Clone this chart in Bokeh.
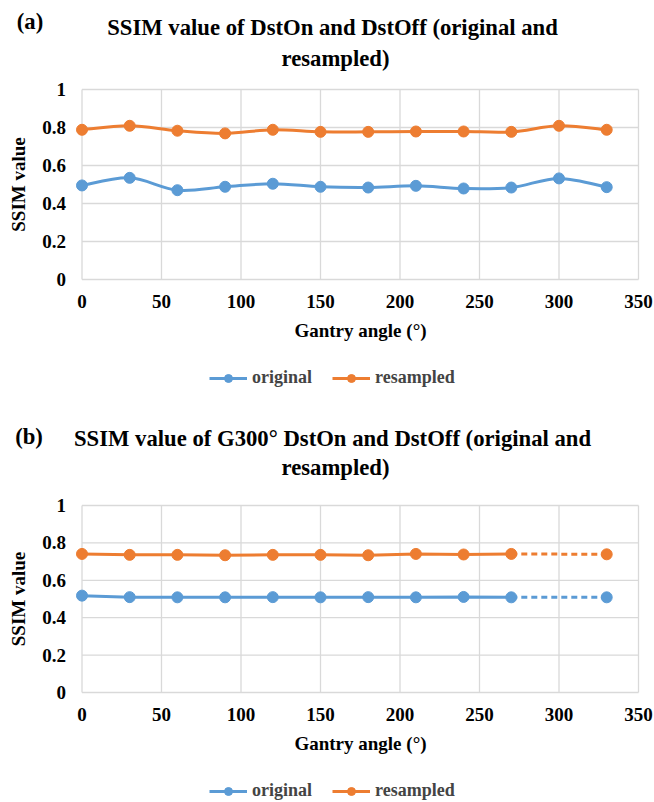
from bokeh.plotting import figure
from bokeh.models import FixedTicker, Legend, LegendItem, Label, CustomJSTickFormatter, Range1d
from bokeh.layouts import column
from bokeh.embed import file_html
from bokeh.resources import INLINE

# ---------------- data ----------------
angles_a = [0, 30, 60, 90, 120, 150, 180, 210, 240, 270, 300, 330]
original_a = [0.495, 0.535, 0.470, 0.488, 0.504, 0.488, 0.484, 0.493, 0.479, 0.484, 0.532, 0.486]
resampled_a = [0.788, 0.809, 0.783, 0.769, 0.788, 0.777, 0.777, 0.779, 0.779, 0.777, 0.809, 0.788]

angles_b = [0, 30, 60, 90, 120, 150, 180, 210, 240, 270, 330]
original_b = [0.518, 0.510, 0.509, 0.509, 0.510, 0.509, 0.510, 0.509, 0.511, 0.509, 0.509]
resampled_b = [0.741, 0.736, 0.736, 0.734, 0.736, 0.736, 0.734, 0.741, 0.738, 0.741, 0.739]
solid_count_b = 10  # points 0..270 joined by a solid line, 270->330 dashed

x_ticks = [0, 50, 100, 150, 200, 250, 300, 350]
y_ticks = [0, 0.2, 0.4, 0.6, 0.8, 1]

title_a = ["SSIM value of DstOn and DstOff (original and", "resampled)"]
title_b = ["SSIM value of G300\u00b0 DstOn and DstOff (original and", "resampled)"]
tag_a = "(a)"
tag_b = "(b)"
x_label = "Gantry angle (\u00b0)"
y_label = "SSIM value"
series_names = ["original", "resampled"]

BLUE = "#5B9BD5"
ORANGE = "#ED7D31"
GRID = "#D9D9D9"
FONT = "Liberation Serif"

# ---------------- layout (page pixels) ----------------
FIG_LEFT, FIG_W = 0, 654
X0_PX, XMAX_PX = 81.5, 638.0          # page x of x=0 and x=350


def smooth_controls(xs, ys):
    """Bezier control points for an Excel-like smoothed line through the points."""
    n = len(xs)
    out = {k: [] for k in ["x0", "y0", "x1", "y1", "cx0", "cy0", "cx1", "cy1"]}
    for i in range(n - 1):
        xm, ym = (xs[i - 1], ys[i - 1]) if i > 0 else (xs[i], ys[i])
        xp, yp = (xs[i + 2], ys[i + 2]) if i + 2 < n else (xs[i + 1], ys[i + 1])
        out["x0"].append(xs[i]); out["y0"].append(ys[i])
        out["x1"].append(xs[i + 1]); out["y1"].append(ys[i + 1])
        out["cx0"].append(xs[i] + (xs[i + 1] - xm) / 6.0)
        out["cy0"].append(ys[i] + (ys[i + 1] - ym) / 6.0)
        out["cx1"].append(xs[i + 1] - (xp - xs[i]) / 6.0)
        out["cy1"].append(ys[i + 1] - (yp - ys[i]) / 6.0)
    return out


def panel(tag, titles, xs, orig, res, smooth, solid_n, fig_top, fig_h, y1_px, y0_px,
          tag_pos, t1_pos, t2_pos, legend_loc):
    sx = (XMAX_PX - X0_PX) / x_ticks[-1]
    sy = (y0_px - y1_px) / y_ticks[-1]
    x_start = (FIG_LEFT - X0_PX) / sx
    x_end = (FIG_LEFT + FIG_W - X0_PX) / sx
    y_end = y_ticks[-1] + (y1_px - fig_top) / sy
    y_start = -(fig_top + fig_h - y0_px) / sy

    def to_data(px, py):
        return (px - X0_PX) / sx, (y0_px - py) / sy

    p = figure(width=FIG_W, height=fig_h,
               x_range=Range1d(x_start, x_end), y_range=Range1d(y_start, y_end),
               min_border=0, output_backend="svg", toolbar_location=None, tools="")
    p.title.visible = False
    p.outline_line_color = None
    p.xgrid.visible = False
    p.ygrid.visible = False

    # gridlines built from the tick lists
    p.segment(x0=x_ticks, y0=[y_ticks[0]] * len(x_ticks), x1=x_ticks, y1=[y_ticks[-1]] * len(x_ticks),
              line_color=GRID, line_width=1.3)
    p.segment(x0=[x_ticks[0]] * len(y_ticks), y0=y_ticks, x1=[x_ticks[-1]] * len(y_ticks), y1=y_ticks,
              line_color=GRID, line_width=1.3)

    renderers = []
    for ys, col in [(orig, BLUE), (res, ORANGE)]:
        if smooth:
            c = smooth_controls(xs, ys)
            ln = p.bezier(source=c, x0="x0", y0="y0", x1="x1", y1="y1",
                          cx0="cx0", cy0="cy0", cx1="cx1", cy1="cy1",
                          line_color=col, line_width=3)
        else:
            ln = p.line(xs[:solid_n], ys[:solid_n], line_color=col, line_width=3)
            p.line(xs[solid_n - 1:], ys[solid_n - 1:], line_color=col, line_width=3, line_dash="6 4")
        sc = p.scatter(xs, ys, size=11, marker="circle", fill_color=col, line_color=col)
        renderers.append([ln, sc])

    for ax in (p.xaxis[0], p.yaxis[0]):
        ax.axis_line_color = None
        ax.major_tick_line_color = None
        ax.minor_tick_line_color = None
        ax.major_tick_out = 0
        ax.major_tick_in = 0
        ax.major_label_text_font = FONT
        ax.major_label_text_font_style = "bold"
        ax.major_label_text_font_size = "19px"
        ax.major_label_text_color = "black"
        ax.axis_label_text_font = FONT
        ax.axis_label_text_font_style = "bold"
        ax.axis_label_text_font_size = "19px"
        ax.axis_label_text_color = "black"
    p.xaxis.ticker = FixedTicker(ticks=x_ticks)
    p.yaxis.ticker = FixedTicker(ticks=y_ticks)
    p.yaxis.formatter = CustomJSTickFormatter(code="return tick.toString();")
    p.xaxis.fixed_location = y_ticks[0]
    p.yaxis.fixed_location = x_ticks[0]
    p.xaxis.bounds = (x_ticks[0], x_ticks[-1])
    p.yaxis.bounds = (y_ticks[0], y_ticks[-1])
    p.xaxis.major_label_standoff = 15
    p.yaxis.major_label_standoff = 16
    p.xaxis.axis_label = x_label
    p.yaxis.axis_label = y_label
    p.xaxis.axis_label_standoff = 9
    p.yaxis.axis_label_standoff = 11

    legend = Legend(items=[LegendItem(label=series_names[0], renderers=renderers[0]),
                           LegendItem(label=series_names[1], renderers=renderers[1])],
                    orientation="horizontal", location=legend_loc,
                    border_line_color=None, background_fill_alpha=0,
                    label_text_font=FONT, label_text_font_style="bold",
                    label_text_font_size="18px", glyph_width=38, label_standoff=5,
                    spacing=20, margin=0, padding=0)
    p.add_layout(legend, "center")

    for txt, (px, py) in [(tag, tag_pos), (titles[0], t1_pos), (titles[1], t2_pos)]:
        dx, dy = to_data(px, py)
        p.add_layout(Label(x=dx, y=dy, text=txt, text_align="center", text_baseline="middle",
                           text_font=FONT, text_font_style="bold", text_font_size="22.7px",
                           text_color="black"))
    return p


pa = panel(tag_a, title_a, angles_a, original_a, resampled_a, True, len(angles_a),
           fig_top=0, fig_h=400, y1_px=89, y0_px=279,
           tag_pos=(29.5, 21), t1_pos=(332, 27), t2_pos=(335, 58), legend_loc=(209, 12))
pb = panel(tag_b, title_b, angles_b, original_b, resampled_b, False, solid_count_b,
           fig_top=400, fig_h=402, y1_px=505, y0_px=692,
           tag_pos=(28.5, 436), t1_pos=(332, 438), t2_pos=(335, 467), legend_loc=(209, 1))

layout = column(pa, pb, spacing=0)
open("out.html", "w").write(file_html(layout, INLINE))
